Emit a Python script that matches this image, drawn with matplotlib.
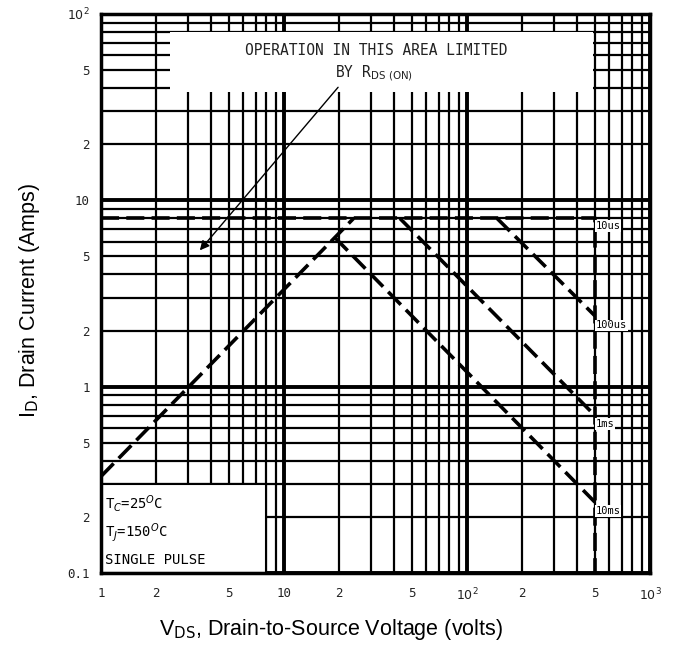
import matplotlib
matplotlib.use("Agg")
import matplotlib.pyplot as plt
from matplotlib.patches import Rectangle
from matplotlib.ticker import FixedLocator, NullLocator

# ---- data ----
v_limit = [1, 500, 500]          # I_D max horizontal then V_DS max vertical
i_limit = [8, 8, 0.1]
v_rds = [1, 24]                  # R_DS(on) limit
i_rds = [0.33, 8]
v_100us = [146, 500]
i_100us = [8, 2.4]
v_1ms = [43, 500]
i_1ms = [8, 0.70]
v_10ms = [19, 500]
i_10ms = [6.3, 0.24]

curve_labels = ["10us", "100us", "1ms", "10ms"]
curve_label_y = [7.3, 2.13, 0.63, 0.215]

x_ticks = [1, 2, 5, 10, 20, 50, 100, 200, 500, 1000]
x_ticklabels = ["1", "2", "5", "10", "2", "5", r"$10^2$", "2", "5", r"$10^3$"]
y_ticks = [0.1, 0.2, 0.5, 1, 2, 5, 10, 20, 50, 100]
y_ticklabels = ["0.1", "2", "5", "1", "2", "5", "10", "2", "5", r"$10^2$"]

x_decades = [1, 10, 100, 1000]
y_decades = [0.1, 1, 10, 100]

fig = plt.figure(figsize=(6.75, 6.54), dpi=100)
ax = fig.add_axes([101/675, 1-573/654, (650-101)/675, (573-14)/654])
ax.set_xscale("log")
ax.set_yscale("log")
ax.set_xlim(1, 1000)
ax.set_ylim(0.1, 100)

# grid: decade lines heavy, 2..9 lines lighter
for d in x_decades[:-1]:
    for k in range(2, 10):
        ax.axvline(d * k, color="black", lw=1.6, zorder=0.5)
for d in y_decades[:-1]:
    for k in range(2, 10):
        ax.axhline(d * k, color="black", lw=1.6, zorder=0.5)
for d in x_decades:
    ax.axvline(d, color="black", lw=2.8, zorder=0.6)
for d in y_decades:
    ax.axhline(d, color="black", lw=2.8, zorder=0.6)

ax.xaxis.set_major_locator(FixedLocator(x_ticks))
ax.yaxis.set_major_locator(FixedLocator(y_ticks))
ax.xaxis.set_minor_locator(NullLocator())
ax.yaxis.set_minor_locator(NullLocator())
ax.set_xticklabels(x_ticklabels)
ax.set_yticklabels(y_ticklabels)
ax.tick_params(which="both", length=0, labelsize=9, colors="#222222")
ax.tick_params(axis="x", pad=10)
ax.tick_params(axis="y", pad=8)
for lab in ax.get_xticklabels() + ax.get_yticklabels():
    lab.set_family("DejaVu Sans Mono")

for s in ax.spines.values():
    s.set_linewidth(2.5)

# white boxes covering grid
ax.add_patch(Rectangle((2.38, 38), 490 - 2.38, 80 - 38, facecolor="white",
                       edgecolor="none", zorder=1))
ax.add_patch(Rectangle((1, 0.1), 8 - 1, 0.3 - 0.1, facecolor="white",
                       edgecolor="black", lw=1.5, zorder=1))

dash = dict(color="black", lw=2.6, ls=(0, (5, 2)), zorder=3)
ax.plot(v_limit, i_limit, **dash)
ax.plot(v_rds, i_rds, **dash)
ax.plot(v_100us, i_100us, **dash)
ax.plot(v_1ms, i_1ms, **dash)
ax.plot(v_10ms, i_10ms, **dash)

for lab, yy in zip(curve_labels, curve_label_y):
    ax.text(505, yy, lab, fontsize=7.5, family="DejaVu Sans Mono", va="center",
            ha="left", zorder=4,
            bbox=dict(facecolor="white", edgecolor="none", pad=0.5))

ax.text(32, 64, "OPERATION IN THIS AREA LIMITED", fontsize=10.5,
        family="DejaVu Sans Mono", ha="center", va="center", zorder=4,
        color="#222222")
ax.text(31, 48, r"BY R$_{\mathrm{DS\ (ON)}}$", fontsize=10.5,
        family="DejaVu Sans Mono", ha="center", va="center", zorder=4,
        color="#222222")
ax.annotate("", xy=(3.39, 5.25), xytext=(20.2, 41.5),
            arrowprops=dict(arrowstyle="-|>", color="black", lw=1.0,
                            mutation_scale=14), zorder=4)

ax.text(1.05, 0.235, r"T$_C$=25$^O$C", fontsize=10, family="DejaVu Sans Mono",
        va="center", ha="left", zorder=4)
ax.text(1.05, 0.165, r"T$_J$=150$^O$C", fontsize=10, family="DejaVu Sans Mono",
        va="center", ha="left", zorder=4)
ax.text(1.05, 0.118, "SINGLE PULSE", fontsize=10, family="DejaVu Sans Mono",
        va="center", ha="left", zorder=4)

fig.text(0.49, 1 - 630/654, r"V$_{\mathrm{DS}}$, Drain-to-Source Voltage (volts)",
         fontsize=15.5, family="Liberation Sans", ha="center", va="center")
fig.text(30/675, 1 - 300/654, r"I$_{\mathrm{D}}$, Drain Current (Amps)",
         fontsize=15.5, family="Liberation Sans", ha="center", va="center",
         rotation=90)

fig.savefig("out.png", dpi=100)
